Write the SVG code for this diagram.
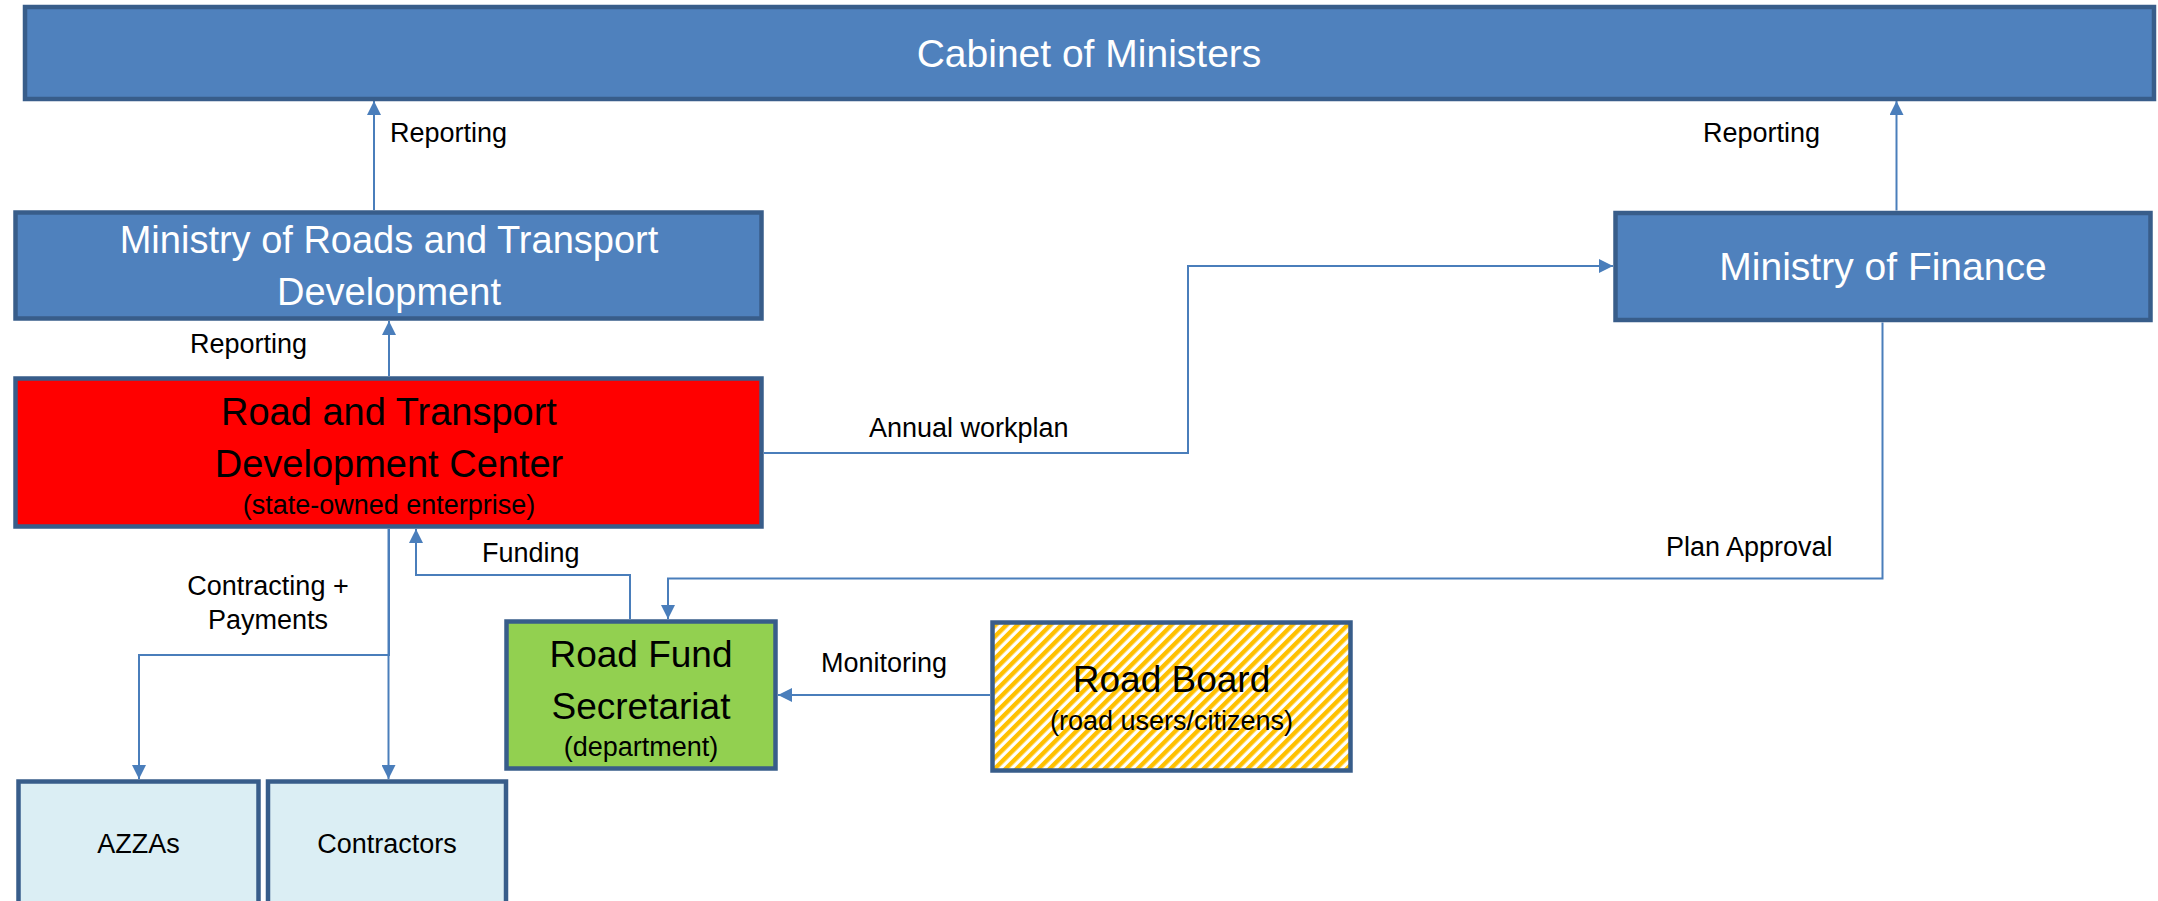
<svg xmlns="http://www.w3.org/2000/svg" width="2158" height="901" viewBox="0 0 2158 901">
<style>
  .box { stroke: #385D8A; stroke-width: 4.5; }
  .blue { fill: #4F81BD; }
  .red { fill: #FF0000; }
  .green { fill: #92D050; }
  .light { fill: #DBEEF4; }
  .hatch { fill: url(#hatch); }
  .t { font-family: "Liberation Sans", Arial, sans-serif; text-anchor: middle; }
  .w { fill: #FFFFFF; }
  .k { fill: #000000; }
  .big { font-size: 38px; }
  .sm { font-size: 27px; }
  .lbl { font-family: "Liberation Sans", Arial, sans-serif; font-size: 27px; fill: #000000; }
  .c { fill: none; stroke: #4A7EBB; stroke-width: 2; marker-end: url(#arr); }
</style>
<defs>
  <marker id="arr" markerUnits="userSpaceOnUse" markerWidth="14" markerHeight="14" refX="14" refY="7" orient="auto">
    <path d="M0,0 L14,7 L0,14 z" fill="#4A7EBB"/>
  </marker>
  <pattern id="hatch" patternUnits="userSpaceOnUse" width="7.78" height="10" patternTransform="rotate(45)">
    <rect x="0" y="0" width="7.78" height="10" fill="#FFFFFF"/>
    <rect x="0" y="0" width="4.4" height="10" fill="#FFC000"/>
  </pattern>
</defs>

<g id="connectors">
  <path class="c" d="M374,210 V101"/>
  <path class="c" d="M389,376 V321"/>
  <path class="c" d="M1896.5,210.5 V101"/>
  <path class="c" d="M764,453 H1188 V266 H1613"/>
  <path class="c" d="M389,529 V655 H139 V779"/>
  <path class="c" d="M388.5,529 V779"/>
  <path class="c" d="M630,619 V575 H416 V529"/>
  <path class="c" d="M1882.5,322.5 V578.5 H668 V619"/>
  <path class="c" d="M990,695 H778"/>
</g>

<g id="cabinet">
  <rect class="box blue" x="25" y="7" width="2129" height="92"/>
  <text class="t w" x="1089" y="67" font-size="39">Cabinet of Ministers</text>
</g>

<g id="mrtd">
  <rect class="box blue" x="15.5" y="212.5" width="746" height="106"/>
  <text class="t w big" x="389" y="253">Ministry of Roads and Transport</text>
  <text class="t w big" x="389" y="305">Development</text>
</g>

<g id="rtdc">
  <rect class="box red" x="15.5" y="378.5" width="746" height="148"/>
  <text class="t k big" x="389" y="425">Road and Transport</text>
  <text class="t k big" x="389" y="477">Development Center</text>
  <text class="t k sm" x="389" y="514">(state-owned enterprise)</text>
</g>

<g id="mof">
  <rect class="box blue" x="1615.5" y="213" width="535" height="107"/>
  <text class="t w" x="1883" y="280" font-size="39">Ministry of Finance</text>
</g>

<g id="rfs">
  <rect class="box green" x="506.5" y="621.5" width="269" height="147"/>
  <text class="t k" x="641" y="667" font-size="37">Road Fund</text>
  <text class="t k" x="641" y="719" font-size="37">Secretariat</text>
  <text class="t k sm" x="641" y="756">(department)</text>
</g>

<g id="roadboard">
  <rect class="box hatch" x="992.5" y="622.5" width="358" height="148"/>
  <text class="t k" x="1171.5" y="692" font-size="37">Road Board</text>
  <text class="t k sm" x="1171.5" y="730">(road users/citizens)</text>
</g>

<g id="azzas">
  <rect class="box light" x="18.5" y="781.5" width="240" height="160"/>
  <text class="t k sm" x="138.5" y="853">AZZAs</text>
</g>

<g id="contractors">
  <rect class="box light" x="268" y="781.5" width="238" height="160"/>
  <text class="t k sm" x="387" y="853">Contractors</text>
</g>

<g id="labels">
  <text class="lbl" x="390" y="142">Reporting</text>
  <text class="lbl" x="190" y="353">Reporting</text>
  <text class="lbl" x="1703" y="142">Reporting</text>
  <text class="lbl" x="869" y="437">Annual workplan</text>
  <text class="lbl" x="482" y="562">Funding</text>
  <text class="lbl" x="268" y="595" text-anchor="middle">Contracting +</text>
  <text class="lbl" x="268" y="629" text-anchor="middle">Payments</text>
  <text class="lbl" x="821" y="672">Monitoring</text>
  <text class="lbl" x="1666" y="556">Plan Approval</text>
</g>
</svg>
